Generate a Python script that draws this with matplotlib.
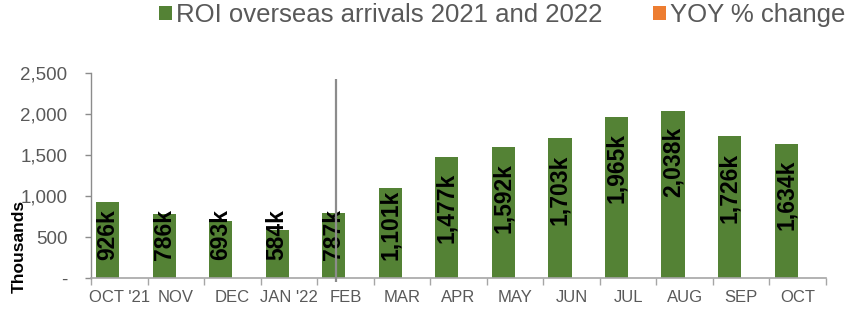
import numpy as np
import matplotlib
matplotlib.use("Agg")
import matplotlib.pyplot as plt
from matplotlib.patches import Patch
from matplotlib.ticker import FixedLocator
from matplotlib.transforms import ScaledTranslation

plt.rcParams['font.family'] = ['Liberation Sans', 'DejaVu Sans']

categories = ["OCT '21", "NOV", "DEC", "JAN '22", "FEB", "MAR", "APR",
              "MAY", "JUN", "JUL", "AUG", "SEP", "OCT"]
arrivals = [926, 786, 693, 584, 787, 1101, 1477, 1592, 1703, 1965, 2038, 1726, 1634]
bar_labels = ["926k", "786k", "693k", "584k", "787k", "1,101k", "1,477k",
              "1,592k", "1,703k", "1,965k", "2,038k", "1,726k", "1,634k"]
yticks = [0, 500, 1000, 1500, 2000, 2500]
ytick_labels = ["-", "500", "1,000", "1,500", "2,000", "2,500"]
series_names = ["ROI overseas arrivals 2021 and 2022", "YOY % change"]

GREEN = "#548235"
ORANGE = "#ED7D31"
GREY_TXT = "#595959"

W, H, DPI = 862, 311, 100
fig = plt.figure(figsize=(W / DPI, H / DPI), dpi=DPI)
ax = fig.add_axes([91 / W, 33 / H, 735 / W, 205 / H])

x = np.arange(len(categories))
bw = 0.41
bars = ax.bar(x - bw / 2, arrivals, width=bw, color=GREEN, label=series_names[0], zorder=2)
yoy_handle = Patch(facecolor=ORANGE, edgecolor='none', label=series_names[1])

ax.set_xlim(-0.5, len(categories) - 0.5)
ax.set_ylim(0, 2500)

# y axis
ax.yaxis.set_major_locator(FixedLocator(yticks))
ax.set_yticklabels(ytick_labels)
ax.tick_params(axis='y', length=4, width=1, color='#8c8c8c', labelsize=13.5,
               labelcolor=GREY_TXT, pad=13)
# x axis
ax.set_xticks(x)
ax.set_xticklabels(categories)
ax.set_xticks(np.arange(len(categories) + 1) - 0.5, minor=True)
ax.tick_params(axis='x', which='major', length=0, labelsize=12, labelcolor=GREY_TXT, pad=9)
ax.tick_params(axis='x', which='minor', length=5, width=1, color='#a6a6a6')

for s in ['top', 'right']:
    ax.spines[s].set_visible(False)
ax.spines['bottom'].set_color('#a6a6a6')
ax.spines['bottom'].set_linewidth(1.2)
ax.spines['left'].set_color('#8c8c8c')
ax.spines['left'].set_linewidth(1.0)

ax.set_ylabel("Thousands", fontsize=12.5, fontweight='bold', color='black')
ax.yaxis.set_label_coords(-0.087, 0.154)

# separator line near FEB
feb = categories.index("FEB")
ax.vlines(feb - 0.17, -50, 2430, color='#8c8c8c', lw=1.6, zorder=4, clip_on=False)

# bar labels
fig.canvas.draw()
renderer = fig.canvas.get_renderer()
base_disp = ax.transData.transform((0, 0))[1]
for rect, lab in zip(bars, bar_labels):
    cx = rect.get_x() + rect.get_width() / 2
    top = rect.get_height()
    t = ax.text(cx, top, lab, rotation=90, ha='center', va='top', fontsize=16.5,
                fontweight='bold', color='black', zorder=3,
                transform=ax.transData + ScaledTranslation(0, -16 / DPI, fig.dpi_scale_trans))
    bb = t.get_window_extent(renderer)
    if bb.y0 < base_disp + 18:
        t.set_position((cx, 0))
        t.set_va('bottom')
        t.set_transform(ax.transData + ScaledTranslation(0, 18 / DPI, fig.dpi_scale_trans))

green_handle = Patch(facecolor=GREEN, edgecolor='none', label=series_names[0])
leg = fig.legend(handles=[green_handle, yoy_handle], loc='upper left',
                 bbox_to_anchor=(159 / W, 1 - 3 / H), ncol=2, frameon=False,
                 fontsize=18.5, labelcolor=GREY_TXT, handlelength=0.5, handleheight=0.5,
                 handletextpad=0.15, columnspacing=2.0, borderpad=0, borderaxespad=0)

fig.savefig("out.png", dpi=DPI)
